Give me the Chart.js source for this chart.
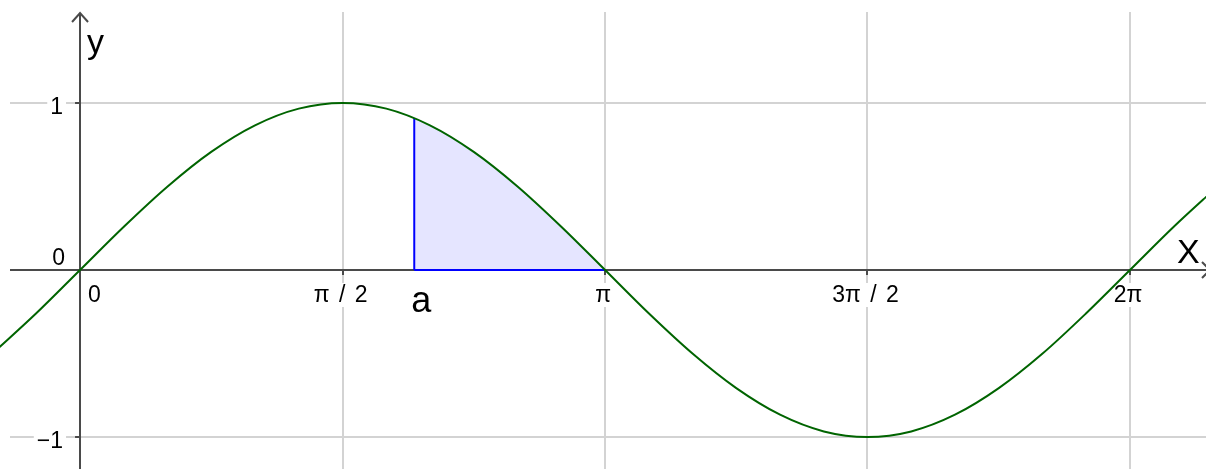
<!DOCTYPE html>
<html>
<head>
<meta charset="utf-8">
<script src="https://cdn.jsdelivr.net/npm/chart.js@4.4.1/dist/chart.umd.min.js"></script>
<style>
  html, body { margin: 0; padding: 0; background: #ffffff; }
  #wrap { width: 1206px; height: 469px; }
</style>
</head>
<body>
<div id="wrap"><canvas id="sineChart" width="1206" height="469"></canvas></div>
<script>
(function () {
    'use strict';

    // y = sin(x), every 15 degrees
    var curveX = [-0.524, -0.262, 0, 0.262, 0.524, 0.785, 1.047, 1.309, 1.571, 1.833,
                  2.094, 2.356, 2.618, 2.880, 3.142, 3.403, 3.665, 3.927, 4.189, 4.451,
                  4.712, 4.974, 5.236, 5.498, 5.760, 6.021, 6.283, 6.545, 6.807];
    var curveY = [-0.5, -0.259, 0, 0.259, 0.5, 0.707, 0.866, 0.966, 1, 0.966,
                  0.866, 0.707, 0.5, 0.259, 0, -0.259, -0.5, -0.707, -0.866, -0.966,
                  -1, -0.966, -0.866, -0.707, -0.5, -0.259, 0, 0.259, 0.5];

    // shaded region from a to pi
    var areaX = [2, 2.094, 2.356, 2.618, 2.880, 3.142];
    var areaY = [0.909, 0.866, 0.707, 0.5, 0.259, 0];
    var edgeX = [2, 2];
    var edgeY = [0, 0.909];
    var baseX = [2, 3.142];
    var baseY = [0, 0];

    var xTickValues = [0, 1.571, 3.142, 4.712, 6.283];
    var xTickLabels = ['0', 'π / 2', 'π', '3π / 2', '2π'];
    var yTickValues = [-1, 0, 1];
    var yTickLabels = ['−1', '0', '1'];

    var X_MIN = -0.479, X_MAX = 6.738;
    var Y_MIN = -1.191, Y_MAX = 1.616;

    var FONT = '"Liberation Sans", Arial, sans-serif';
    var GREEN = '#006400';
    var BLUE = '#0000ff';

    function pts(xs, ys) {
        return xs.map(function (x, i) { return { x: x, y: ys[i] }; });
    }

    function labelBox(ctx, text, x, baseline, align) {
        var w = ctx.measureText(text).width;
        var left = align === 'center' ? x - w / 2 : (align === 'right' ? x - w : x);
        ctx.fillStyle = '#ffffff';
        ctx.fillRect(left - 3, baseline - 19, w + 6, 24);
        ctx.fillStyle = '#000000';
        ctx.textAlign = align;
        ctx.fillText(text, x, baseline);
    }

    var geoAxes = {
        id: 'geoAxes',
        beforeDatasetsDraw: function (chart) {
            var ctx = chart.ctx;
            var xs = chart.scales.x, ys = chart.scales.y;
            var x0 = xs.getPixelForValue(0), y0 = ys.getPixelForValue(0);
            var W = chart.width, H = chart.height;

            ctx.save();
            // grid
            ctx.strokeStyle = '#d3d3d3';
            ctx.lineWidth = 2;
            xTickValues.forEach(function (v) {
                if (v === 0) return;
                var px = Math.round(xs.getPixelForValue(v));
                ctx.beginPath(); ctx.moveTo(px, 12); ctx.lineTo(px, H); ctx.stroke();
            });
            yTickValues.forEach(function (v) {
                if (v === 0) return;
                var py = Math.round(ys.getPixelForValue(v));
                ctx.beginPath(); ctx.moveTo(10, py); ctx.lineTo(W, py); ctx.stroke();
            });

            // tick labels
            ctx.font = '23px ' + FONT;
            ctx.textBaseline = 'alphabetic';
            if ('wordSpacing' in ctx) ctx.wordSpacing = '3px';
            xTickValues.forEach(function (v, i) {
                var px = xs.getPixelForValue(v);
                if (v === 0) labelBox(ctx, xTickLabels[i], px + 8, y0 + 32, 'left');
                else labelBox(ctx, xTickLabels[i], px - 2, y0 + 32, 'center');
            });
            yTickValues.forEach(function (v, i) {
                var py = ys.getPixelForValue(v);
                if (v === 0) labelBox(ctx, yTickLabels[i], x0 - 15, y0 - 5, 'right');
                else labelBox(ctx, yTickLabels[i], x0 - 17, py + 11, 'right');
            });

            // axes
            ctx.strokeStyle = '#4a4a4a';
            ctx.lineWidth = 2;
            ctx.beginPath();
            ctx.moveTo(10, Math.round(y0)); ctx.lineTo(W + 4, Math.round(y0));
            ctx.moveTo(Math.round(x0), 14); ctx.lineTo(Math.round(x0), H);
            ctx.stroke();

            // arrows
            ctx.lineWidth = 2;
            ctx.beginPath();
            ctx.moveTo(x0 - 8, 22); ctx.lineTo(x0, 13); ctx.lineTo(x0 + 8, 22);
            ctx.moveTo(W - 4, y0 - 8); ctx.lineTo(W + 4, y0); ctx.lineTo(W - 4, y0 + 8);
            ctx.stroke();

            // tick marks
            ctx.beginPath();
            xTickValues.forEach(function (v) {
                if (v === 0) return;
                var px = Math.round(xs.getPixelForValue(v));
                ctx.moveTo(px, y0); ctx.lineTo(px, y0 + 5);
            });
            yTickValues.forEach(function (v) {
                if (v === 0) return;
                var py = Math.round(ys.getPixelForValue(v));
                ctx.moveTo(x0 - 5, py); ctx.lineTo(x0, py);
            });
            ctx.stroke();
            ctx.restore();
        },
        afterDatasetsDraw: function (chart) {
            var ctx = chart.ctx;
            var xs = chart.scales.x, ys = chart.scales.y;
            var x0 = xs.getPixelForValue(0), y0 = ys.getPixelForValue(0);
            ctx.save();
            ctx.fillStyle = '#000000';
            ctx.textAlign = 'left';
            ctx.textBaseline = 'alphabetic';
            ctx.font = '34px ' + FONT;
            ctx.fillText('y', x0 + 7, 53);
            ctx.fillText('X', chart.width - 29, y0 - 7);
            ctx.font = '36px ' + FONT;
            ctx.fillText('a', xs.getPixelForValue(edgeX[0]) - 3, y0 + 42);
            ctx.restore();
        }
    };

    new Chart(document.getElementById('sineChart'), {
        type: 'line',
        data: {
            datasets: [
                {
                    data: pts(curveX, curveY),
                    borderColor: GREEN,
                    borderWidth: 2,
                    cubicInterpolationMode: 'monotone',
                    pointRadius: 0,
                    fill: false
                },
                {
                    data: pts(edgeX, edgeY),
                    borderColor: BLUE,
                    borderWidth: 2,
                    pointRadius: 0,
                    fill: false
                },
                {
                    data: pts(baseX, baseY),
                    borderColor: BLUE,
                    borderWidth: 2,
                    pointRadius: 0,
                    fill: false
                },
                {
                    data: pts(areaX, areaY),
                    borderWidth: 0,
                    borderColor: 'rgba(0,0,0,0)',
                    backgroundColor: 'rgba(0,0,255,0.1)',
                    cubicInterpolationMode: 'monotone',
                    pointRadius: 0,
                    fill: 'origin'
                }
            ]
        },
        options: {
            responsive: false,
            animation: false,
            events: [],
            layout: { padding: 0 },
            plugins: { legend: { display: false }, tooltip: { enabled: false } },
            scales: {
                x: { type: 'linear', min: X_MIN, max: X_MAX, display: false },
                y: { type: 'linear', min: Y_MIN, max: Y_MAX, display: false }
            }
        },
        plugins: [geoAxes]
    });
})();
</script>
</body>
</html>
